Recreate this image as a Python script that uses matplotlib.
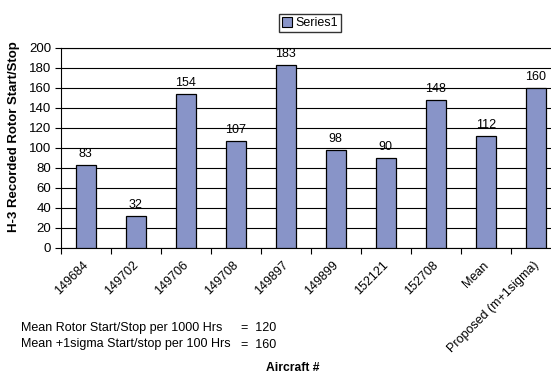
import matplotlib
matplotlib.use("Agg")
import matplotlib.pyplot as plt
import matplotlib.transforms as mtransforms
from matplotlib.patches import Patch
import numpy as np

# aircraft rotor start/stop counts
categories = ["149684", "149702", "149706", "149708", "149897",
              "149899", "152121", "152708", "Mean", "Proposed (m+1sigma)"]
values = [83, 32, 154, 107, 183, 98, 90, 148, 112, 160]
y_ticks = list(range(0, 201, 20))

notes = [("Mean Rotor Start/Stop per 1000 Hrs", "=  120"),
         ("Mean +1sigma Start/stop per 100 Hrs", "=  160")]

plt.rcParams['font.family'] = ['Liberation Sans', 'DejaVu Sans']

W, H = 551, 385
fig = plt.figure(figsize=(W / 100, H / 100), dpi=100)
fig.patch.set_facecolor("white")

# plot area runs slightly past the right edge of the figure
ax = fig.add_axes([60.7 / W, 137 / H, 500 / W, 200 / H])
x = np.arange(len(categories))
bar_color = "#8894C8"
ax.bar(x, values, width=0.4, color=bar_color, edgecolor="black",
       linewidth=0.9, zorder=3)

for xi, v in zip(x, values):
    ax.text(xi, v + 5, str(v), ha="center", va="bottom", fontsize=9, zorder=4)

ax.set_xlim(-0.5, len(categories) - 0.5)
ax.set_ylim(0, 200)
ax.set_yticks(y_ticks)
ax.yaxis.grid(True, color="black", linewidth=0.8, zorder=1)
ax.tick_params(axis="y", labelsize=9.5, length=4, width=0.8, direction="out", pad=3)

# labels under categories, tick marks between categories
ax.set_xticks(x)
ax.set_xticklabels(categories, rotation=45, ha="right", rotation_mode="anchor", fontsize=9)
ax.tick_params(axis="x", which="major", length=0, pad=8)
shift = mtransforms.ScaledTranslation(-3 / 100, 0, fig.dpi_scale_trans)
for lbl in ax.get_xticklabels():
    lbl.set_transform(lbl.get_transform() + shift)
ax.set_xticks(np.arange(len(categories) + 1) - 0.5, minor=True)
ax.tick_params(axis="x", which="minor", length=4, width=0.8, direction="out")

for side in ["left", "bottom", "top"]:
    ax.spines[side].set_color("black")
    ax.spines[side].set_linewidth(0.8)
ax.spines["right"].set_visible(False)

fig.text(14 / W, 1 - 137 / H, "H-3 Recorded Rotor Start/Stop", rotation=90,
         fontsize=9.5, fontweight="bold", ha="center", va="center")

handle = Patch(facecolor=bar_color, edgecolor="black", linewidth=0.8)
fig.legend([handle], ["Series1"], loc="center", bbox_to_anchor=(310 / W, 1 - 23 / H),
           fontsize=9, frameon=True, fancybox=False, edgecolor="black",
           handlelength=0.8, handleheight=0.8, handletextpad=0.3,
           borderpad=0.25, borderaxespad=0)

for i, (left, right) in enumerate(notes):
    y = 1 - (328 + 16.5 * i) / H
    fig.text(21 / W, y, left, fontsize=9, va="center", ha="left")
    fig.text(241 / W, y, right, fontsize=9, va="center", ha="left")

fig.text(293 / W, 1 - 368 / H, "Aircraft #", fontsize=8.7, fontweight="bold",
         ha="center", va="center")

fig.savefig("out.png", dpi=100)
